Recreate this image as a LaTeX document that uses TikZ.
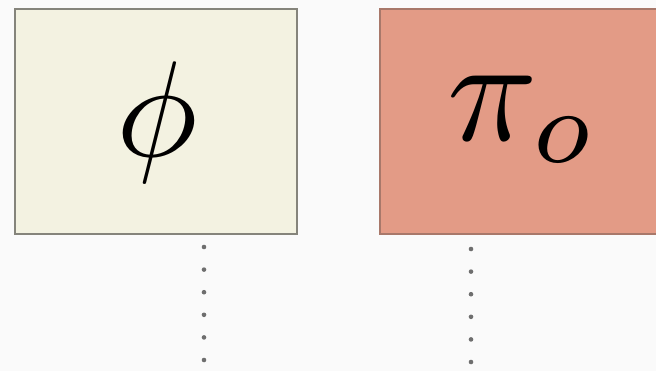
\documentclass[tikz,border=0pt]{standalone}
\definecolor{bgc}{HTML}{FAFAFA}
\definecolor{leftfill}{HTML}{F3F2E1}
\definecolor{leftdraw}{HTML}{85847B}
\definecolor{rightdraw}{HTML}{A8786A}
\definecolor{rightfill}{HTML}{E39B86}
\definecolor{dotc}{HTML}{6E6E6E}
\tikzset{
  panel/.style={line width=1.6bp, inner sep=0pt},
  dotline/.style={dotc, line width=4.6bp, line cap=round, dash pattern=on 0bp off 22.6bp},
}
\begin{document}
\begin{tikzpicture}[x=1bp,y=-1bp]
\useasboundingbox[fill=bgc] (0,0) rectangle (656,371);
\node[panel, draw=leftdraw, fill=leftfill, minimum width=282bp, minimum height=225bp, anchor=north west] (lbox) at (14,8) {};
\node[panel, draw=rightdraw, fill=rightfill, minimum width=290bp, minimum height=225bp, anchor=north west] (rbox) at (379,8) {};
\node[anchor=base, inner sep=0pt, scale=13.7] (phi) at (157,156) {$\phi$};
\node[anchor=base, inner sep=0pt, scale=15] (pio) at (523,140) {$\pi_o$};
\coordinate (l1) at (204,247);
\coordinate (l2) at (204,361);
\coordinate (r1) at (471,249);
\coordinate (r2) at (471,363);
\draw[dotline] (l1) -- (l2);
\draw[dotline] (r1) -- (r2);
\end{tikzpicture}
\end{document}
